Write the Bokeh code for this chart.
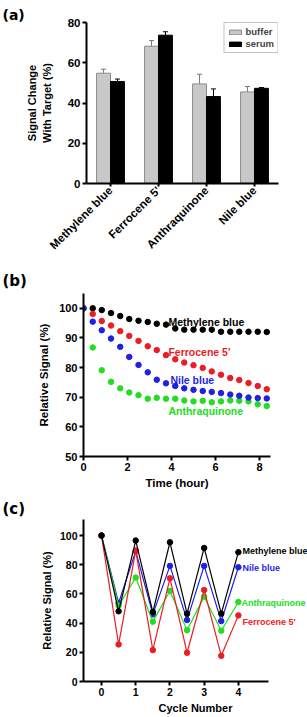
import math
from bokeh.plotting import figure
from bokeh.models import (ColumnDataSource, FactorRange, Range1d, Label, Legend,
                          LegendItem, Whisker, TeeHead, FixedTicker)
from bokeh.transform import dodge
from bokeh.layouts import column
from bokeh.embed import file_html
from bokeh.resources import INLINE

# ---------------- data ----------------
# (a)
probes = ["Methylene blue", "Ferrocene 5'", "Anthraquinone", "Nile blue"]
buffer_vals = [54.8, 68.2, 49.5, 45.5]
buffer_err = [2.0, 2.8, 4.8, 2.7]
serum_vals = [50.7, 73.7, 43.2, 47.3]
serum_err = [1.2, 1.7, 3.8, 0.4]
a_yticks = [0, 20, 40, 60, 80]

# (b)
time_h = [0, 0.42, 0.83, 1.25, 1.67, 2.08, 2.5, 2.92, 3.33, 3.75, 4.17,
          4.58, 5.0, 5.42, 5.83, 6.25, 6.67, 7.08, 7.5, 7.92, 8.33]
b_mb = [100, 100.0, 99.4, 98.4, 97.4, 96.4, 95.8, 95.4, 94.8, 94.5, 93.2,
        92.8, 92.8, 92.8, 92.8, 92.1, 92.1, 92.1, 92.1, 92.1, 92.0]
b_fc = [100, 98.1, 95.7, 94.2, 92.3, 90.7, 89.0, 87.2, 85.9, 84.2, 82.8,
        81.7, 80.8, 79.9, 78.7, 77.6, 76.5, 75.8, 74.8, 73.8, 72.7]
b_nb = [100, 95.5, 92.6, 89.8, 87.0, 83.6, 80.9, 78.4, 75.9, 74.7, 73.8,
        73.0, 72.5, 72.1, 71.8, 71.4, 70.9, 70.5, 69.9, 69.7, 69.6]
b_aq = [100, 86.8, 79.1, 75.2, 73.0, 71.6, 70.7, 69.5, 69.8, 69.5, 69.5,
        68.9, 68.6, 68.8, 68.3, 68.6, 68.9, 68.8, 68.6, 67.6, 67.0]
b_xticks = [0, 2, 4, 6, 8]
b_yticks = [50, 60, 70, 80, 90, 100]

# (c)
cycles = [0, 0.5, 1, 1.5, 2, 2.5, 3, 3.5, 4]
c_mb = [100, 48.1, 96.6, 47.6, 95.4, 46.5, 91.5, 46.5, 88.6]
c_nb = [100, 53.8, 89.3, 46.0, 79.2, 42.1, 79.2, 41.4, 78.3]
c_aq = [100, 51.9, 71.2, 41.0, 62.0, 35.2, 58.1, 34.8, 54.5]
c_fc = [100, 25.4, 89.7, 21.5, 70.7, 19.7, 62.7, 17.6, 45.3]
c_xticks = [0, 1, 2, 3, 4]
c_yticks = [0, 20, 40, 60, 80, 100]

series_names = ["Methylene blue", "Ferrocene 5'", "Nile blue", "Anthraquinone"]

# ---------------- style ----------------
FONT = "Liberation Sans"
BLACK = "#000000"
RED = "#ec1c24"
BLUE = "#1f1fe6"
GREEN = "#22dd22"
GRAY = "#c8c8c8"


def style(p, tick_size="11px", label_size="11px"):
    p.grid.visible = False
    p.outline_line_color = None
    p.background_fill_color = "white"
    p.border_fill_color = "white"
    for ax in p.axis:
        ax.axis_line_width = 2
        ax.axis_line_color = "black"
        ax.major_tick_line_width = 2
        ax.major_tick_out = 4
        ax.major_tick_in = 0
        ax.minor_tick_line_color = None
        ax.major_label_text_font = FONT
        ax.major_label_text_font_style = "bold"
        ax.major_label_text_font_size = tick_size
        ax.major_label_text_color = "black"
        ax.major_label_standoff = 2
        ax.axis_label_text_font = FONT
        ax.axis_label_text_font_style = "bold"
        ax.axis_label_text_font_size = label_size
        ax.axis_label_text_color = "black"


def panel_tag(p, txt, left, standoff, size="15px"):
    p.title.text = txt
    p.title.align = "left"
    p.title.offset = -left
    p.title.standoff = standoff
    p.title.text_font = "DejaVu Sans"
    p.title.text_font_style = "bold"
    p.title.text_font_size = size
    p.title.text_color = "black"


# ---------------- (a) ----------------
src_a = ColumnDataSource(dict(
    probe=probes,
    buf=buffer_vals,
    buf_up=[v + e for v, e in zip(buffer_vals, buffer_err)],
    ser=serum_vals,
    ser_up=[v + e for v, e in zip(serum_vals, serum_err)],
))

pa = figure(width=307, height=265, x_range=FactorRange(*probes),
            y_range=Range1d(0, 80), output_backend="svg", toolbar_location=None,
            min_border_left=86, min_border_right=29, min_border_top=22,
            min_border_bottom=82, frame_align=False)
r_buf = pa.vbar(x=dodge("probe", -0.145, range=pa.x_range), top="buf", width=0.29,
                source=src_a, fill_color=GRAY, line_color="#8a8a8a", line_width=1)
r_ser = pa.vbar(x=dodge("probe", 0.145, range=pa.x_range), top="ser", width=0.29,
                source=src_a, fill_color=BLACK, line_color=BLACK, line_width=1)
pa.add_layout(Whisker(base=dodge("probe", -0.145, range=pa.x_range), upper="buf_up",
                      lower="buf", source=src_a, line_color="#777777", line_width=1,
                      upper_head=TeeHead(size=5, line_color="#777777", line_width=1),
                      lower_head=None))
pa.add_layout(Whisker(base=dodge("probe", 0.145, range=pa.x_range), upper="ser_up",
                      lower="ser", source=src_a, line_color=BLACK, line_width=1,
                      upper_head=TeeHead(size=5, line_color=BLACK, line_width=1),
                      lower_head=None))
style(pa, tick_size="11.5px", label_size="11px")
pa.yaxis.ticker = FixedTicker(ticks=a_yticks)
pa.yaxis.axis_label = "Signal Change\nWith Target (%)"
pa.yaxis.axis_label_standoff = 12
pa.xaxis.major_label_orientation = math.pi / 4
pa.xaxis.major_label_text_font_size = "11.5px"
pa.xaxis.major_tick_out = 3
leg = Legend(items=[LegendItem(label="buffer", renderers=[r_buf]),
                    LegendItem(label="serum", renderers=[r_ser])],
             location="top_right", margin=0, padding=3, spacing=1,
             glyph_width=15, glyph_height=6, label_height=8, label_standoff=3,
             label_text_font=FONT, label_text_font_style="bold",
             label_text_font_size="9.5px", border_line_color="#888888",
             border_line_width=1, background_fill_color="white",
             background_fill_alpha=1)
pa.add_layout(leg)
panel_tag(pa, "(a)", 84, 0, "14px")

# ---------------- (b) ----------------
pb = figure(width=307, height=230, x_range=Range1d(0, 8.5), y_range=Range1d(50, 105),
            output_backend="svg", toolbar_location=None,
            min_border_left=83, min_border_right=37, min_border_top=28,
            min_border_bottom=39, frame_align=False)
for ys, col in [(b_mb, BLACK), (b_fc, RED), (b_aq, GREEN), (b_nb, BLUE)]:
    pb.scatter(time_h, ys, size=5.5, fill_color=col, line_color=col)
style(pb, tick_size="11px", label_size="11.5px")
pb.xaxis.ticker = FixedTicker(ticks=b_xticks)
pb.yaxis.ticker = FixedTicker(ticks=b_yticks)
pb.xaxis.axis_label = "Time (hour)"
pb.yaxis.axis_label = "Relative Signal (%)"
pb.xaxis.axis_label_standoff = 3
pb.yaxis.axis_label_standoff = 6
b_label_pos = [(3.86, 95.5, BLACK), (3.86, 85.1, RED), (3.95, 75.7, BLUE), (3.86, 65.3, GREEN)]
for name, (lx, ly, col) in zip(series_names, b_label_pos):
    pb.add_layout(Label(x=lx, y=ly, text=name, text_font=FONT, text_font_style="bold",
                        text_font_size="10.5px", text_color=col, text_baseline="middle",
                        text_align="left"))
panel_tag(pb, "(b)", 81, 7)

# ---------------- (c) ----------------
pc = figure(width=307, height=221, x_range=Range1d(-0.526, 6.02), y_range=Range1d(0, 111),
            output_backend="svg", toolbar_location=None,
            min_border_left=83, min_border_right=0, min_border_top=24,
            min_border_bottom=35, frame_align=False)
for ys, col in [(c_nb, BLUE), (c_aq, GREEN), (c_fc, RED), (c_mb, BLACK)]:
    pc.line(cycles, ys, line_color=col, line_width=1.2)
    pc.scatter(cycles, ys, size=5.5, fill_color=col, line_color=col)
style(pc, tick_size="10.5px", label_size="11px")
pc.xaxis.ticker = FixedTicker(ticks=c_xticks)
pc.yaxis.ticker = FixedTicker(ticks=c_yticks)
pc.xaxis.bounds = (-0.526, 4.89)
pc.xaxis.axis_label = "Cycle Number"
pc.yaxis.axis_label = "Relative Signal (%)"
pc.xaxis.axis_label_standoff = 3
pc.yaxis.axis_label_standoff = 4
c_label_pos = [(4.12, 89.7, BLACK), (4.12, 41.0, RED), (4.12, 78.0, BLUE), (4.09, 54.0, GREEN)]
for name, (lx, ly, col) in zip(series_names, c_label_pos):
    pc.add_layout(Label(x=lx, y=ly, text=name, text_font=FONT, text_font_style="bold",
                        text_font_size="9px", text_color=col, text_baseline="middle",
                        text_align="left"))
panel_tag(pc, "(c)", 81, 4)

layout = column(pa, pb, pc, spacing=0)
open("out.html", "w").write(file_html(layout, INLINE))
